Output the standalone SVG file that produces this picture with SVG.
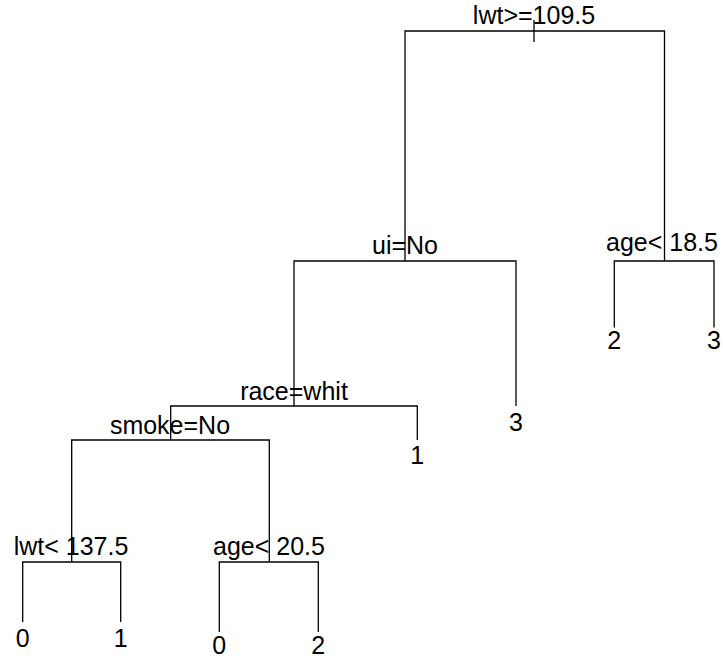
<svg xmlns="http://www.w3.org/2000/svg" width="723" height="660" viewBox="0 0 723 660">
  <style>
    .edge { fill: none; stroke: #000; stroke-width: 1.3; }
    .lbl { font-family: "Liberation Sans", Arial, sans-serif; font-size: 25px; fill: #000; text-anchor: middle; }
  </style>
  <rect width="723" height="660" fill="#fff"/>

  <!-- branches of the tree -->
  <g id="connectors">
    <!-- root split -->
    <path class="edge" d="M534,20 V42"/>
    <path class="edge" d="M405,261 V31 H664.5 V261"/>
    <!-- ui split -->
    <path class="edge" d="M294,406 V261 H516 V406"/>
    <!-- age< 18.5 split -->
    <path class="edge" d="M614.3,327.5 V261 H714 V327.5"/>
    <!-- race split -->
    <path class="edge" d="M170.7,440 V406 H417.3 V440"/>
    <!-- smoke split -->
    <path class="edge" d="M71.7,562 V440 H269.3 V562"/>
    <!-- lwt< 137.5 split -->
    <path class="edge" d="M22.7,622 V562 H120.7 V622"/>
    <!-- age< 20.5 split -->
    <path class="edge" d="M219.3,632 V562 H318.3 V632"/>
  </g>

  <!-- split nodes -->
  <g id="n_root"><text class="lbl" x="534" y="24">lwt&gt;=109.5</text></g>
  <g id="n_ui"><text class="lbl" x="405" y="254">ui=No</text></g>
  <g id="n_age1"><text class="lbl" x="662" y="251">age&lt; 18.5</text></g>
  <g id="n_race"><text class="lbl" x="294" y="400">race=whit</text></g>
  <g id="n_smoke"><text class="lbl" x="170" y="434">smoke=No</text></g>
  <g id="n_lwt2"><text class="lbl" x="71" y="555">lwt&lt; 137.5</text></g>
  <g id="n_age2"><text class="lbl" x="269" y="555">age&lt; 20.5</text></g>

  <!-- leaves -->
  <g id="leaf_age1_l"><text class="lbl" x="614.3" y="348.5">2</text></g>
  <g id="leaf_age1_r"><text class="lbl" x="714" y="348.5">3</text></g>
  <g id="leaf_ui_r"><text class="lbl" x="516" y="431">3</text></g>
  <g id="leaf_race_r"><text class="lbl" x="417.3" y="464">1</text></g>
  <g id="leaf_lwt2_l"><text class="lbl" x="22.7" y="647">0</text></g>
  <g id="leaf_lwt2_r"><text class="lbl" x="120.7" y="647">1</text></g>
  <g id="leaf_age2_l"><text class="lbl" x="219.3" y="654">0</text></g>
  <g id="leaf_age2_r"><text class="lbl" x="318.3" y="654">2</text></g>
</svg>
